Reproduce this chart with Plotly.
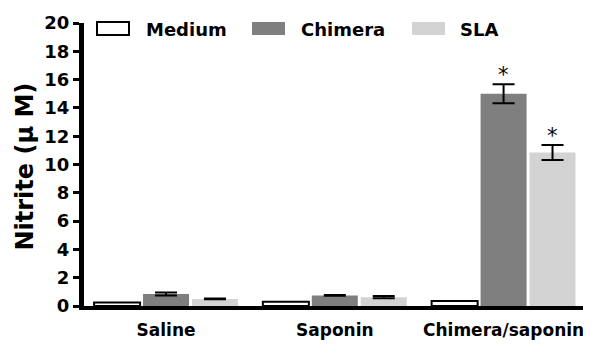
import plotly.graph_objects as go

categories = ["Saline", "Saponin", "Chimera/saponin"]
series_names = ["Medium", "Chimera", "SLA"]
medium = [0.25, 0.3, 0.35]
chimera = [0.85, 0.75, 15.0]
chimera_err = [0.1, 0.02, 0.67]
sla = [0.5, 0.62, 10.85]
sla_err = [0.03, 0.08, 0.53]
significant_chimera = ["", "", "*"]
significant_sla = ["", "", "*"]
y_ticks = list(range(0, 21, 2))

FONT = "DejaVu Sans"
x_idx = list(range(len(categories)))

# page has an 8px body margin; figure sized to fill the rest of the window
PAGE_OFF = 8
PL, PR, PT, PB = 84, 591, 23, 306          # plot area in page pixels
FIG_W, FIG_H = 591 - PAGE_OFF, 344 - PAGE_OFF

fig = go.Figure()
fig.add_trace(go.Bar(
    name=series_names[0], x=x_idx, y=medium,
    marker=dict(color="white", line=dict(color="black", width=2)),
))
fig.add_trace(go.Bar(
    name=series_names[1], x=x_idx, y=chimera,
    marker=dict(color="#7f7f7f", line=dict(width=0)),
    error_y=dict(type="data", array=chimera_err, color="black", thickness=2, width=11),
))
fig.add_trace(go.Bar(
    name=series_names[2], x=x_idx, y=sla,
    marker=dict(color="#d3d3d3", line=dict(width=0)),
    error_y=dict(type="data", array=sla_err, color="black", thickness=2, width=11),
))

bargap = 0.13
slot = (1 - bargap) / 3
annotations = []
for i in x_idx:
    for off, vals, errs, marks in [(0, chimera, chimera_err, significant_chimera),
                                   (slot, sla, sla_err, significant_sla)]:
        if marks[i]:
            annotations.append(dict(
                x=i + off, y=vals[i] + errs[i], xref="x", yref="y",
                text=marks[i], showarrow=False, yanchor="bottom", yshift=-5,
                font=dict(family=FONT, size=21, color="black"),
            ))

W = PR - PL
H = PB - PT
def px_x(p):
    return (p - PL) / W
def px_y(p):
    return (PB - p) / H

# y-axis title
annotations.append(dict(
    x=px_x(24), y=px_y(166.5), xref="paper", yref="paper", xanchor="center", yanchor="middle",
    text="Nitrite (μ M)", textangle=-90, showarrow=False,
    font=dict(family=FONT, size=24, color="black", weight="bold"),
))

# legend drawn as shapes + text
legend_items = [
    (97, 129, 144, "white", "black"),
    (252, 285, 299, "#7f7f7f", "#7f7f7f"),
    (412, 445, 458, "#d3d3d3", "#d3d3d3"),
]
shapes = []
for (x0, x1, tx, fill, line), name in zip(legend_items, series_names):
    shapes.append(dict(type="rect", xref="paper", yref="paper",
                       x0=px_x(x0), x1=px_x(x1), y0=px_y(35), y1=px_y(22),
                       fillcolor=fill, line=dict(color=line, width=2 if fill == "white" else 0)))
    annotations.append(dict(x=px_x(tx), y=px_y(29), xref="paper", yref="paper",
                            xanchor="left", yanchor="middle", text=name, showarrow=False,
                            font=dict(family=FONT, size=18, color="black", weight="bold")))

fig.update_layout(
    width=FIG_W, height=FIG_H,
    margin=dict(l=PL - PAGE_OFF, r=0, t=PT - PAGE_OFF, b=FIG_H - (PB - PAGE_OFF)),
    plot_bgcolor="white", paper_bgcolor="white",
    barmode="group", bargap=bargap, bargroupgap=0.06,
    showlegend=False,
    annotations=annotations, shapes=shapes,
    xaxis=dict(
        range=[-0.486, 2.518], tickmode="array", tickvals=x_idx, ticktext=categories,
        showline=True, linecolor="black", linewidth=4, ticks="", showgrid=False, zeroline=False,
        ticklabelstandoff=6,
        tickfont=dict(family=FONT, size=17, color="black", weight="bold"),
    ),
    yaxis=dict(
        range=[0, 20], tickvals=y_ticks, showline=True, linecolor="black", linewidth=5,
        ticks="outside", ticklen=6, tickwidth=3, tickcolor="black",
        showgrid=False, zeroline=False,
        tickfont=dict(family=FONT, size=18, color="black", weight="bold"),
    ),
)

fig.write_html("out.html")
